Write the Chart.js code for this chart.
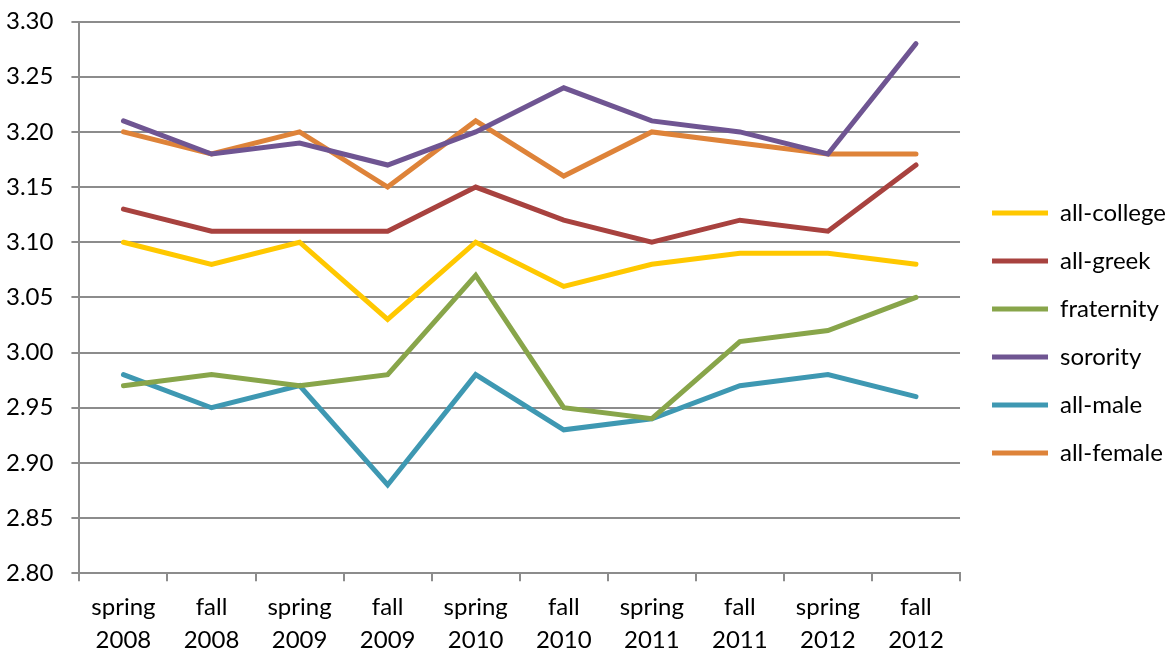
<!DOCTYPE html>
<html>
<head>
<meta charset="utf-8">
<script src="https://cdn.jsdelivr.net/npm/chart.js@4/dist/chart.umd.min.js"></script>
<style>
  html, body { margin: 0; padding: 0; background: #fff; }
  #wrap { width: 1170px; height: 652px; }
</style>
</head>
<body>
<div id="wrap"><canvas id="gpaChart" width="1170" height="652"></canvas></div>
<script>
// terms along the x axis (two lines each)
const terms = [
    ['spring', '2008'], ['fall', '2008'], ['spring', '2009'], ['fall', '2009'],
    ['spring', '2010'], ['fall', '2010'], ['spring', '2011'], ['fall', '2011'],
    ['spring', '2012'], ['fall', '2012']
];

const allCollege = [3.10, 3.08, 3.10, 3.03, 3.10, 3.06, 3.08, 3.09, 3.09, 3.08];
const allGreek   = [3.13, 3.11, 3.11, 3.11, 3.15, 3.12, 3.10, 3.12, 3.11, 3.17];
const fraternity = [2.97, 2.98, 2.97, 2.98, 3.07, 2.95, 2.94, 3.01, 3.02, 3.05];
const sorority   = [3.21, 3.18, 3.19, 3.17, 3.20, 3.24, 3.21, 3.20, 3.18, 3.28];
const allMale    = [2.98, 2.95, 2.97, 2.88, 2.98, 2.93, 2.94, 2.97, 2.98, 2.96];
const allFemale  = [3.20, 3.18, 3.20, 3.15, 3.21, 3.16, 3.20, 3.19, 3.18, 3.18];

const seriesNames = ['all-college', 'all-greek', 'fraternity', 'sorority', 'all-male', 'all-female'];
const seriesData = [allCollege, allGreek, fraternity, sorority, allMale, allFemale];
const seriesColors = ['#FFC800', '#A8423F', '#88A54A', '#6F5592', '#3E98B2', '#DE8339'];

const yMin = 2.80;
const yMax = 3.30;
const yStep = 0.05;

const FONT = "Lato, 'Open Sans', sans-serif";
const GRID = '#8c8c8c';

function buildDatasets() {
    return seriesNames.map((name, i) => ({
        label: name,
        data: seriesData[i],
        borderColor: seriesColors[i],
        backgroundColor: seriesColors[i],
        borderWidth: 5,
        borderCapStyle: 'round',
        pointRadius: 0,
        pointHoverRadius: 0,
        tension: 0,
        fill: false
    }));
}

// nudge the legend a bit away from the plot, like the original
const legendNudge = {
    id: 'legendNudge',
    afterLayout(chart) {
        const lg = chart.legend;
        if (!lg) return;
        lg.left += 8;
        lg.right += 8;
        lg.top += 5;
        lg.bottom += 5;
    }
};

const ctx = document.getElementById('gpaChart').getContext('2d');

new Chart(ctx, {
    type: 'line',
    data: {
        labels: terms,
        datasets: buildDatasets()
    },
    plugins: [legendNudge],
    options: {
        responsive: false,
        animation: false,
        layout: {
            padding: { top: -10, right: 2, bottom: -14, left: -12 }
        },
        plugins: {
            tooltip: { enabled: false },
            legend: {
                position: 'right',
                align: 'center',
                labels: {
                    color: '#000',
                    font: { family: FONT, size: 24 },
                    boxWidth: 56,
                    boxHeight: 5,
                    padding: 24,
                    // draw the legend marks in the series order, as in the picture
                    generateLabels: (chart) => chart.data.datasets.map((ds, i) => ({
                        text: ds.label,
                        fillStyle: ds.borderColor,
                        strokeStyle: ds.borderColor,
                        lineWidth: 0,
                        hidden: false,
                        datasetIndex: i
                    }))
                }
            }
        },
        scales: {
            x: {
                offset: true,
                border: { color: GRID, width: 2 },
                grid: {
                    offset: true,
                    drawOnChartArea: false,
                    color: GRID,
                    lineWidth: 2,
                    tickLength: 8
                },
                ticks: {
                    color: '#000',
                    font: { family: FONT, size: 24, lineHeight: 1.35 },
                    maxRotation: 0,
                    padding: 10
                }
            },
            y: {
                min: yMin,
                max: yMax,
                border: { color: GRID, width: 2 },
                grid: {
                    color: GRID,
                    lineWidth: 2,
                    tickLength: 8
                },
                ticks: {
                    stepSize: yStep,
                    color: '#000',
                    font: { family: FONT, size: 24, lineHeight: 0.3 },
                    padding: 18,
                    callback: (v) => Number(v).toFixed(2)
                }
            }
        }
    }
});
</script>
</body>
</html>
